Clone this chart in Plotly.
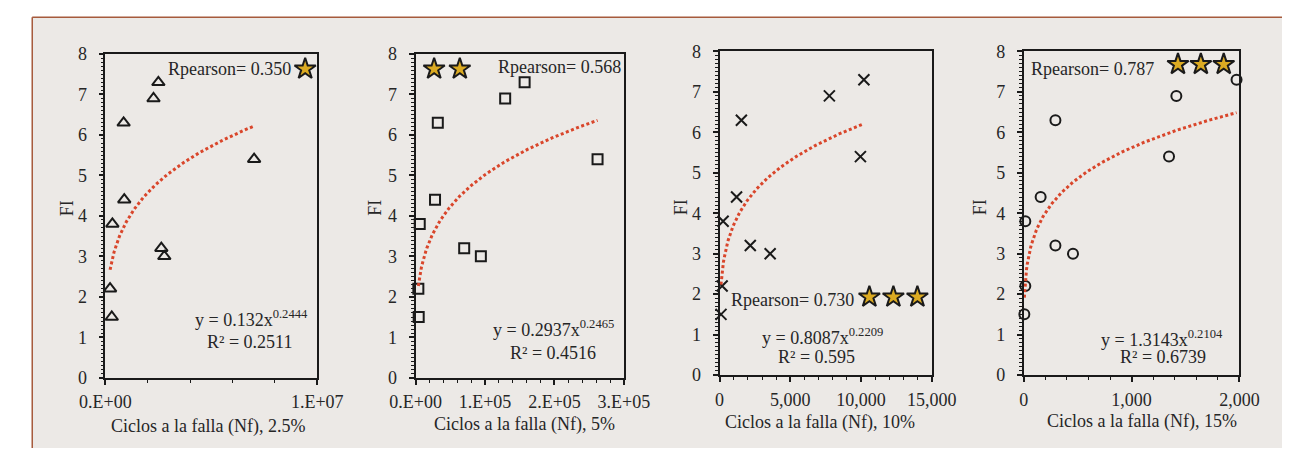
import numpy as np
import plotly.graph_objects as go

W, H = 1308, 458

# Fragility index of the ten samples (same order in every panel)
FI = [1.5, 2.2, 3.8, 4.4, 6.3, 6.9, 7.3, 3.2, 3.0, 5.4]

# Cycles to failure for each strain level
nf_25 = [3.0e5, 2.2e5, 3.3e5, 8.9e5, 8.6e5, 2.27e6, 2.5e6, 2.64e6, 2.78e6, 7.02e6]
nf_5 = [4500, 4000, 6000, 2.8e4, 3.2e4, 1.29e5, 1.57e5, 7.0e4, 9.4e4, 2.62e5]
nf_10 = [100, 180, 250, 1200, 1540, 7760, 10200, 2170, 3575, 9955]
nf_15 = [6, 15, 15, 157, 294, 1415, 1973, 294, 457, 1347]
NF = [nf_25, nf_5, nf_10, nf_15]

# Power trendline y = a * x^b
coef_a = [0.132, 0.2937, 0.8087, 1.3143]
coef_b = [0.2444, 0.2465, 0.2209, 0.2104]
r2 = ["0.2511", "0.4516", "0.595", "0.6739"]
rpearson = [0.350, 0.568, 0.730, 0.787]
n_stars = [1, 2, 3, 3]
strain = ["2.5%", "5%", "10%", "15%"]

symbols = ["triangle-up-open", "square-open", "x-thin-open", "circle-open"]
msizes = [11, 10, 11, 10]

x_max = [1e7, 3e5, 15000, 2000]
x_major = [1e7, 1e5, 5000, 1000]
x_minor = [2e6, 2e4, 1000, 200]
x_ticktext = [
    ["0.E+00", "1.E+07"],
    ["0.E+00", "1.E+05", "2.E+05", "3.E+05"],
    ["0", "5,000", "10,000", "15,000"],
    ["0", "1,000", "2,000"],
]

# significance stars (data coordinates of first star, spacing, height)
star_x0 = [9.43e6, 2.67e4, 10588, 1430]
star_dx = [0, 3.7e4, 1697, 212]
star_y = [7.63, 7.63, 1.93, 7.68]

# plot boxes in pixels: left, right, top, bottom
boxes = [(82.7, 303.3, 46, 384.5), (405.7, 622.7, 46, 384.5),
         (722.3, 943.3, 43.3, 381.7), (1039, 1263.7, 43.3, 381.7)]
rp_pos = [(211.7, 61.7), (555.8, 60), (798.3, 303.3), (1111, 61.7)]
eq_pos = [(235, 322.7), (549, 333.3), (829, 341.7), (1183, 343.3)]
r2_pos = [(233, 346.7), (549, 358.3), (823.3, 363.3), (1184, 363.3)]
fi_pos = [(43, 207), (363.3, 207), (681.7, 206.7), (993, 206.7)]
xt_pos = [(190, 435), (519.2, 433.3), (826.7, 431.7), (1162, 430)]

FONT = "Liberation Serif"
FS = 18
TXT = "#262626"
INK = "#1a1a1a"


def px(x):
    return x / W


def py(y):
    return 1 - y / H


fig = go.Figure()
annotations = []
layout = {}

for i in range(4):
    k = "" if i == 0 else str(i + 1)
    xa, ya = "x" + k, "y" + k
    l, r, t, b = boxes[i]

    nf = NF[i]
    fig.add_trace(go.Scatter(
        x=nf, y=FI, mode="markers", xaxis=xa, yaxis=ya,
        marker=dict(symbol=symbols[i], size=msizes[i], color=INK,
                    line=dict(width=2, color=INK)),
        showlegend=False, cliponaxis=False))

    xs = np.linspace(min(nf), max(nf), 300)
    fig.add_trace(go.Scatter(
        x=xs, y=coef_a[i] * xs ** coef_b[i], mode="lines", xaxis=xa, yaxis=ya,
        line=dict(color="#d9462b", width=3, dash="3px,2.5px"),
        showlegend=False, hoverinfo="skip"))

    sx = [star_x0[i] + j * star_dx[i] for j in range(n_stars[i])]
    fig.add_trace(go.Scatter(
        x=sx, y=[star_y[i]] * n_stars[i], mode="markers", xaxis=xa, yaxis=ya,
        marker=dict(symbol="star", size=16, color="#dcab22",
                    line=dict(width=2, color=INK)),
        showlegend=False, cliponaxis=False))

    layout["xaxis" + k] = dict(
        domain=[px(l), px(r)], anchor=ya, range=[0, x_max[i]],
        tickvals=[j * x_major[i] for j in range(len(x_ticktext[i]))],
        ticktext=x_ticktext[i], ticks="outside", ticklen=5, tickwidth=1.5,
        tickcolor=INK, minor=dict(dtick=x_minor[i], tick0=0, ticks="outside",
                                  ticklen=3, tickwidth=1.2, tickcolor=INK),
        showgrid=False, zeroline=False, showline=True, linecolor=INK,
        linewidth=1.8, mirror=True, ticklabelstandoff=2,
        tickfont=dict(family=FONT, size=FS, color=TXT))
    layout["yaxis" + k] = dict(
        domain=[py(b), py(t)], anchor=xa, range=[0, 8], dtick=1, tick0=0,
        ticks="outside", ticklen=5, tickwidth=1.5, tickcolor=INK,
        minor=dict(dtick=0.1, tick0=0, ticks="outside", ticklen=3,
                   tickwidth=1, tickcolor=INK),
        showgrid=False, zeroline=False, showline=True, linecolor=INK,
        linewidth=1.8, mirror=True, ticklabelstandoff=8,
        tickfont=dict(family=FONT, size=FS, color=TXT))

    def ann(text, pos, **kw):
        d = dict(text=text, x=px(pos[0]), y=py(pos[1]), xref="paper",
                 yref="paper", showarrow=False, xanchor="center",
                 yanchor="middle", font=dict(family=FONT, size=FS, color=TXT))
        d.update(kw)
        annotations.append(d)

    ann("Rpearson= %.3f" % rpearson[i], rp_pos[i])
    ann("y = %sx<sup>%s</sup>" % (coef_a[i], coef_b[i]), eq_pos[i])
    ann("R² = %s" % r2[i], r2_pos[i])
    ann("FI", fi_pos[i], textangle=-90)
    ann("Ciclos a la falla (Nf), %s" % strain[i], xt_pos[i])

shapes = [
    dict(type="rect", xref="paper", yref="paper", x0=px(7), x1=1, y0=0,
         y1=py(7.5), fillcolor="#ece9e6", line=dict(width=0), layer="below"),
    dict(type="line", xref="paper", yref="paper", x0=px(6.5), x1=1,
         y0=py(7.5), y1=py(7.5), line=dict(color="#a65a3c", width=1.5)),
    dict(type="line", xref="paper", yref="paper", x0=px(6.5), x1=px(6.5),
         y0=0, y1=py(7.5), line=dict(color="#a65a3c", width=1.5)),
]

fig.update_layout(
    width=W, height=H, margin=dict(l=0, r=0, t=0, b=0),
    paper_bgcolor="white", plot_bgcolor="rgba(0,0,0,0)",
    annotations=annotations, shapes=shapes, **layout)

fig.write_html("out.html")
